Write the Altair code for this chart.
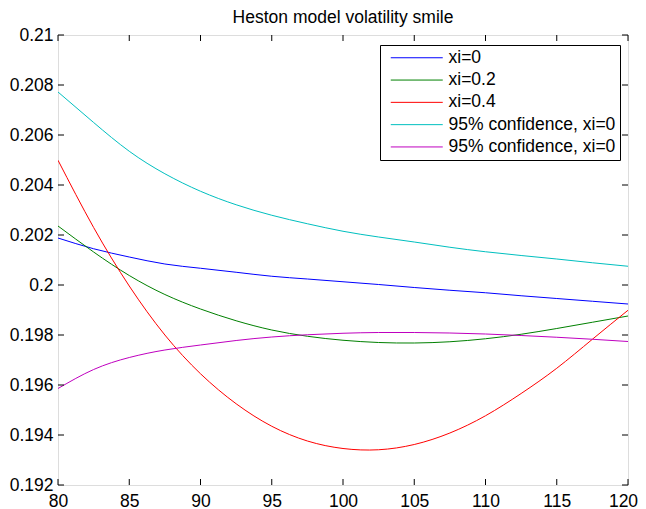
import altair as alt
import pandas as pd

STRIKES = [80, 82.5, 85, 87.5, 90, 92.5, 95, 97.5, 100, 102.5, 105, 107.5, 110, 112.5, 115, 117.5, 120]
XI_0 = [0.20188, 0.20145, 0.20112, 0.20084, 0.20067, 0.20051, 0.20035, 0.20024, 0.20013, 0.20002, 0.19990, 0.19979, 0.19969, 0.19957, 0.19946, 0.19935, 0.19924]
XI_02 = [0.20236, 0.20132, 0.20038, 0.19962, 0.19904, 0.19857, 0.19820, 0.19795, 0.19779, 0.19770, 0.19768, 0.19773, 0.19785, 0.19803, 0.19826, 0.19851, 0.19876]
XI_04 = [0.20499, 0.20230, 0.19996, 0.19800, 0.19645, 0.19525, 0.19435, 0.19376, 0.19346, 0.19341, 0.19362, 0.19408, 0.19477, 0.19566, 0.19667, 0.19783, 0.19899]
CONF_UPPER = [0.20772, 0.20650, 0.20535, 0.20445, 0.20375, 0.20321, 0.20279, 0.20245, 0.20215, 0.20192, 0.20172, 0.20151, 0.20133, 0.20118, 0.20104, 0.20089, 0.20075]
CONF_LOWER = [0.19586, 0.19662, 0.19710, 0.19740, 0.19760, 0.19778, 0.19792, 0.19801, 0.19807, 0.19810, 0.19810, 0.19808, 0.19804, 0.19798, 0.19791, 0.19783, 0.19774]

SERIES_KEYS = ["xi=0", "xi=0.2", "xi=0.4", "95% confidence, xi=0 (a)", "95% confidence, xi=0 (b)"]
SERIES_COLORS = ["#0000ff", "#008000", "#ff0000", "#00bfbf", "#bf00bf"]
X_TICKS = [80, 85, 90, 95, 100, 105, 110, 115, 120]
Y_TICKS = [0.192, 0.194, 0.196, 0.198, 0.2, 0.202, 0.204, 0.206, 0.208, 0.21]
TITLE = "Heston model volatility smile"

W, H = 570, 450
TICK = 6
FONT = "Liberation Sans"
FS = 17.5

rows = []
for key, vals in zip(SERIES_KEYS, [XI_0, XI_02, XI_04, CONF_UPPER, CONF_LOWER]):
    for i, (k, v) in enumerate(zip(STRIKES, vals)):
        rows.append({"strike": k, "vol": v, "series": key, "order": i})
df = pd.DataFrame(rows)

xscale = alt.Scale(domain=[80, 120], nice=False, zero=False)
yscale = alt.Scale(domain=[0.192, 0.21], nice=False, zero=False)

lines = alt.Chart(df).mark_line(strokeWidth=1, interpolate="natural", clip=True).encode(
    x=alt.X("strike:Q", scale=xscale,
            axis=alt.Axis(values=X_TICKS, format="d", title=None, tickSize=0, domain=False,
                          grid=False, labelPadding=7, labelFontSize=FS, labelColor="black",
                          labelFont=FONT, labelFlush=False,
                          labelOffset={"condition": {"test": "datum.value >= 120", "value": -5},
                                       "value": 0})),
    y=alt.Y("vol:Q", scale=yscale,
            axis=alt.Axis(values=Y_TICKS, format="~g", title=None, tickSize=0, domain=False,
                          grid=False, labelPadding=5, labelFontSize=FS, labelColor="black",
                          labelFont=FONT, labelFlush=False)),
    color=alt.Color("series:N",
                    scale=alt.Scale(domain=SERIES_KEYS, range=SERIES_COLORS),
                    legend=alt.Legend(title=None, orient="none", legendX=322, legendY=10,
                                      symbolType="M-1,0H25", symbolSize=16, symbolStrokeWidth=1,
                                      symbolFillColor="transparent",
                                      symbolOffset=0, labelOffset=47, labelFontSize=FS,
                                      labelFont=FONT, labelColor="black",
                                      labelExpr="split(datum.label, ' (')[0]",
                                      padding=4, rowPadding=3.3, strokeColor="black",
                                      fillColor="white", cornerRadius=0, labelLimit=300)),
    order="order:Q",
)

xt = pd.DataFrame({"t": X_TICKS})
yt = pd.DataFrame({"t": Y_TICKS})

tick_bottom = alt.Chart(xt).mark_rule(stroke="black", strokeWidth=1).encode(
    x=alt.X("t:Q", scale=xscale), y=alt.value(H), y2=alt.value(H - TICK))
tick_top = alt.Chart(xt).mark_rule(stroke="black", strokeWidth=1).encode(
    x=alt.X("t:Q", scale=xscale), y=alt.value(0), y2=alt.value(TICK))
tick_left = alt.Chart(yt).mark_rule(stroke="black", strokeWidth=1).encode(
    y=alt.Y("t:Q", scale=yscale), x=alt.value(0), x2=alt.value(TICK))
tick_right = alt.Chart(yt).mark_rule(stroke="black", strokeWidth=1).encode(
    y=alt.Y("t:Q", scale=yscale), x=alt.value(W), x2=alt.value(W - TICK))

chart = alt.layer(lines, tick_bottom, tick_top, tick_left, tick_right).properties(
    width=W, height=H,
    title=alt.TitleParams(TITLE, fontSize=FS, fontWeight="normal", font=FONT, color="black",
                          anchor="middle", offset=0),
    autosize=alt.AutoSizeParams(type="none"),
    padding={"left": 50, "top": 27, "right": 10, "bottom": 24},
).configure_view(stroke="black", strokeWidth=1).configure(background="white")

chart.save("out.html", embed_options={"renderer": "svg", "actions": False})
